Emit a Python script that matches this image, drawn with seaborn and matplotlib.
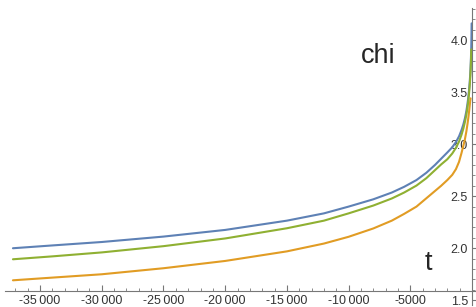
import numpy as np
import pandas as pd
import matplotlib
matplotlib.use("Agg")
import matplotlib.pyplot as plt
import seaborn as sns
from matplotlib.ticker import FixedLocator, MultipleLocator

# values
t_vals = [-37200, -34000, -30000, -25000, -20000, -15000, -12000, -10000, -8000,
          -6500, -5500, -4500, -3700, -3000, -2500, -2000, -1600, -1300, -1050,
          -850, -700, -570, -460, -370, -300, -240, -190, -150, -115, -85, -60,
          -45, -30]
chi_blue = [2.000, 2.027, 2.060, 2.112, 2.176, 2.265, 2.335, 2.400, 2.470,
            2.535, 2.590, 2.655, 2.725, 2.800, 2.860, 2.920, 2.970, 3.020, 3.075,
            3.135, 3.190, 3.250, 3.315, 3.385, 3.450, 3.520, 3.590, 3.660, 3.740,
            3.830, 3.930, 4.030, 4.160]
chi_orange = [1.692, 1.718, 1.750, 1.808, 1.878, 1.970, 2.045, 2.110, 2.190,
              2.265, 2.330, 2.400, 2.480, 2.550, 2.600, 2.655, 2.705, 2.760, 2.830,
              2.915, 2.985, 3.050, 3.120, 3.190, 3.250, 3.310, 3.365, 3.410, 3.440,
              np.nan, np.nan, np.nan, np.nan]
chi_green = [1.894, 1.922, 1.960, 2.020, 2.094, 2.192, 2.265, 2.335, 2.410,
             2.478, 2.535, 2.602, 2.673, 2.750, 2.805, 2.855, 2.910, 2.965, 3.025,
             3.090, 3.150, 3.215, 3.280, 3.350, 3.415, 3.485, 3.555, 3.625, 3.700,
             3.790, 3.910, np.nan, np.nan]

x_ticks = [-35000, -30000, -25000, -20000, -15000, -10000, -5000]
x_labels = ["-35\u2009000", "-30\u2009000", "-25\u2009000", "-20\u2009000",
            "-15\u2009000", "-10\u2009000", "-5000"]
y_ticks = [1.5, 2.0, 2.5, 3.0, 3.5, 4.0]
y_labels = ["1.5", "2.0", "2.5", "3.0", "3.5", "4.0"]

colors = {"a": "#5E81B5", "b": "#E19C24", "c": "#8FB032"}

df = pd.concat([
    pd.DataFrame({"t": t_vals, "chi": chi_blue, "curve": "a"}),
    pd.DataFrame({"t": t_vals, "chi": chi_orange, "curve": "b"}),
    pd.DataFrame({"t": t_vals, "chi": chi_green, "curve": "c"}),
]).dropna()

sns.set_style("white")
plt.rcParams["font.family"] = ["Liberation Sans", "DejaVu Sans"]

fig = plt.figure(figsize=(4.77, 3.07), dpi=100)
ax = fig.add_axes([5 / 477, 2 / 307, 472 / 477, 297 / 307])
ax.patch.set_alpha(0)

sns.lineplot(data=df, x="t", y="chi", hue="curve", palette=colors,
             legend=False, linewidth=1.5, ax=ax, sort=False)

ax.set_xlim(-37844, 405)
ax.set_ylim(1.4548, 4.3077)

axis_col = "#777777"
ax.spines["top"].set_visible(False)
ax.spines["right"].set_visible(False)
ax.spines["left"].set_position(("data", 0))
ax.spines["bottom"].set_position(("data", 1.59))
for s in ["left", "bottom"]:
    ax.spines[s].set_color(axis_col)
    ax.spines[s].set_linewidth(0.8)

ax.xaxis.set_major_locator(FixedLocator(x_ticks))
ax.set_xticklabels(x_labels)
ax.xaxis.set_minor_locator(MultipleLocator(1000))
ax.yaxis.set_major_locator(FixedLocator(y_ticks))
ax.set_yticklabels(y_labels)
ax.yaxis.set_minor_locator(MultipleLocator(0.1))

ax.tick_params(axis="both", which="major", direction="in", length=4, width=0.8,
               color=axis_col, labelsize=9, labelcolor="#333333", pad=3)
ax.tick_params(axis="both", which="minor", direction="in", length=2.2, width=0.6,
               color=axis_col)
ax.tick_params(axis="x", which="both", bottom=True, top=False)
ax.tick_params(axis="y", which="both", left=True, right=False)
ax.set_xlabel("")
ax.set_ylabel("")

fig.text(378 / 477, 244 / 307, "chi", fontsize=19.5, ha="center", va="baseline")
fig.text(428.5 / 477, 37 / 307, "t", fontsize=19.5, ha="center", va="baseline")

fig.savefig("out.png", dpi=100)
